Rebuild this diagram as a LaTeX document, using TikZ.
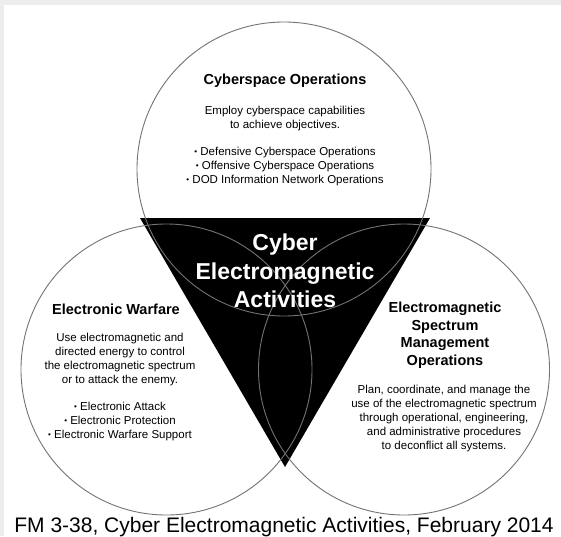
\documentclass[tikz,border=0pt]{standalone}
\usepackage{fontspec}
\setmainfont{Liberation Sans}
\usetikzlibrary{positioning}

\newcommand{\blt}{\raisebox{.2ex}{\scalebox{.7}{\textbullet}}\ }

\begin{document}
\begin{tikzpicture}[x=1pt,y=-1pt,
        ring/.style={draw=black!55,line width=0.9pt},
        ttl/.style={align=center,font=\fontsize{14.5}{17.5}\selectfont\bfseries},
        body/.style={align=center,font=\fontsize{11.5}{14}\selectfont},
        ctr/.style={align=center,text=white,font=\fontsize{23}{28.5}\selectfont\bfseries}]
        \useasboundingbox (0,0) rectangle (561,536);
        \fill[black!7] (0,0) rectangle (561,536);
        \fill[white] (4,5) rectangle (561,536);

        % the black triangle
        \coordinate (tl) at (140,218);
        \coordinate (tr) at (430,218);
        \coordinate (tb) at (285,467);
        \fill[black] (tl) -- (tr) -- (tb) -- cycle;

        % the three circles
        \coordinate (co) at (284,169);
        \coordinate (ew) at (166.5,369.5);
        \coordinate (em) at (404,369.5);
        \draw[ring] (co) circle[radius=147pt];
        \draw[ring] (ew) circle[radius=145.5pt];
        \draw[ring] (em) circle[radius=145.5pt];

        \node[ctr] (cema) at (285,271) {Cyber\\Electromagnetic\\Activities};

        \node[ttl] (coT) at (285,81) {Cyberspace Operations};
        \node[body] (coB) at (285,146) {Employ cyberspace capabilities\\to achieve objectives.\\[13pt]
            \blt Defensive Cyberspace Operations\\\blt Offensive Cyberspace Operations\\\blt DOD Information Network Operations};

        \node[ttl] (ewT) at (116,309) {Electronic Warfare};
        \node[body] (ewB) at (120,387.5) {Use electromagnetic and\\directed energy to control\\the electromagnetic spectrum\\or to attack the enemy.\\[13pt]
            \blt Electronic Attack\\\blt Electronic Protection\\\blt Electronic Warfare Support};

        \node[ttl] (emT) at (445,335) {Electromagnetic\\Spectrum\\Management\\Operations};
        \node[body] (emB) at (444,419) {Plan, coordinate, and manage the\\use of the electromagnetic spectrum\\through operational, engineering,\\and administrative procedures\\to deconflict all systems.};

        \node[font=\fontsize{21}{25}\selectfont] (cap) at (284,527) {FM 3-38, Cyber Electromagnetic Activities, February 2014};
\end{tikzpicture}
\end{document}
